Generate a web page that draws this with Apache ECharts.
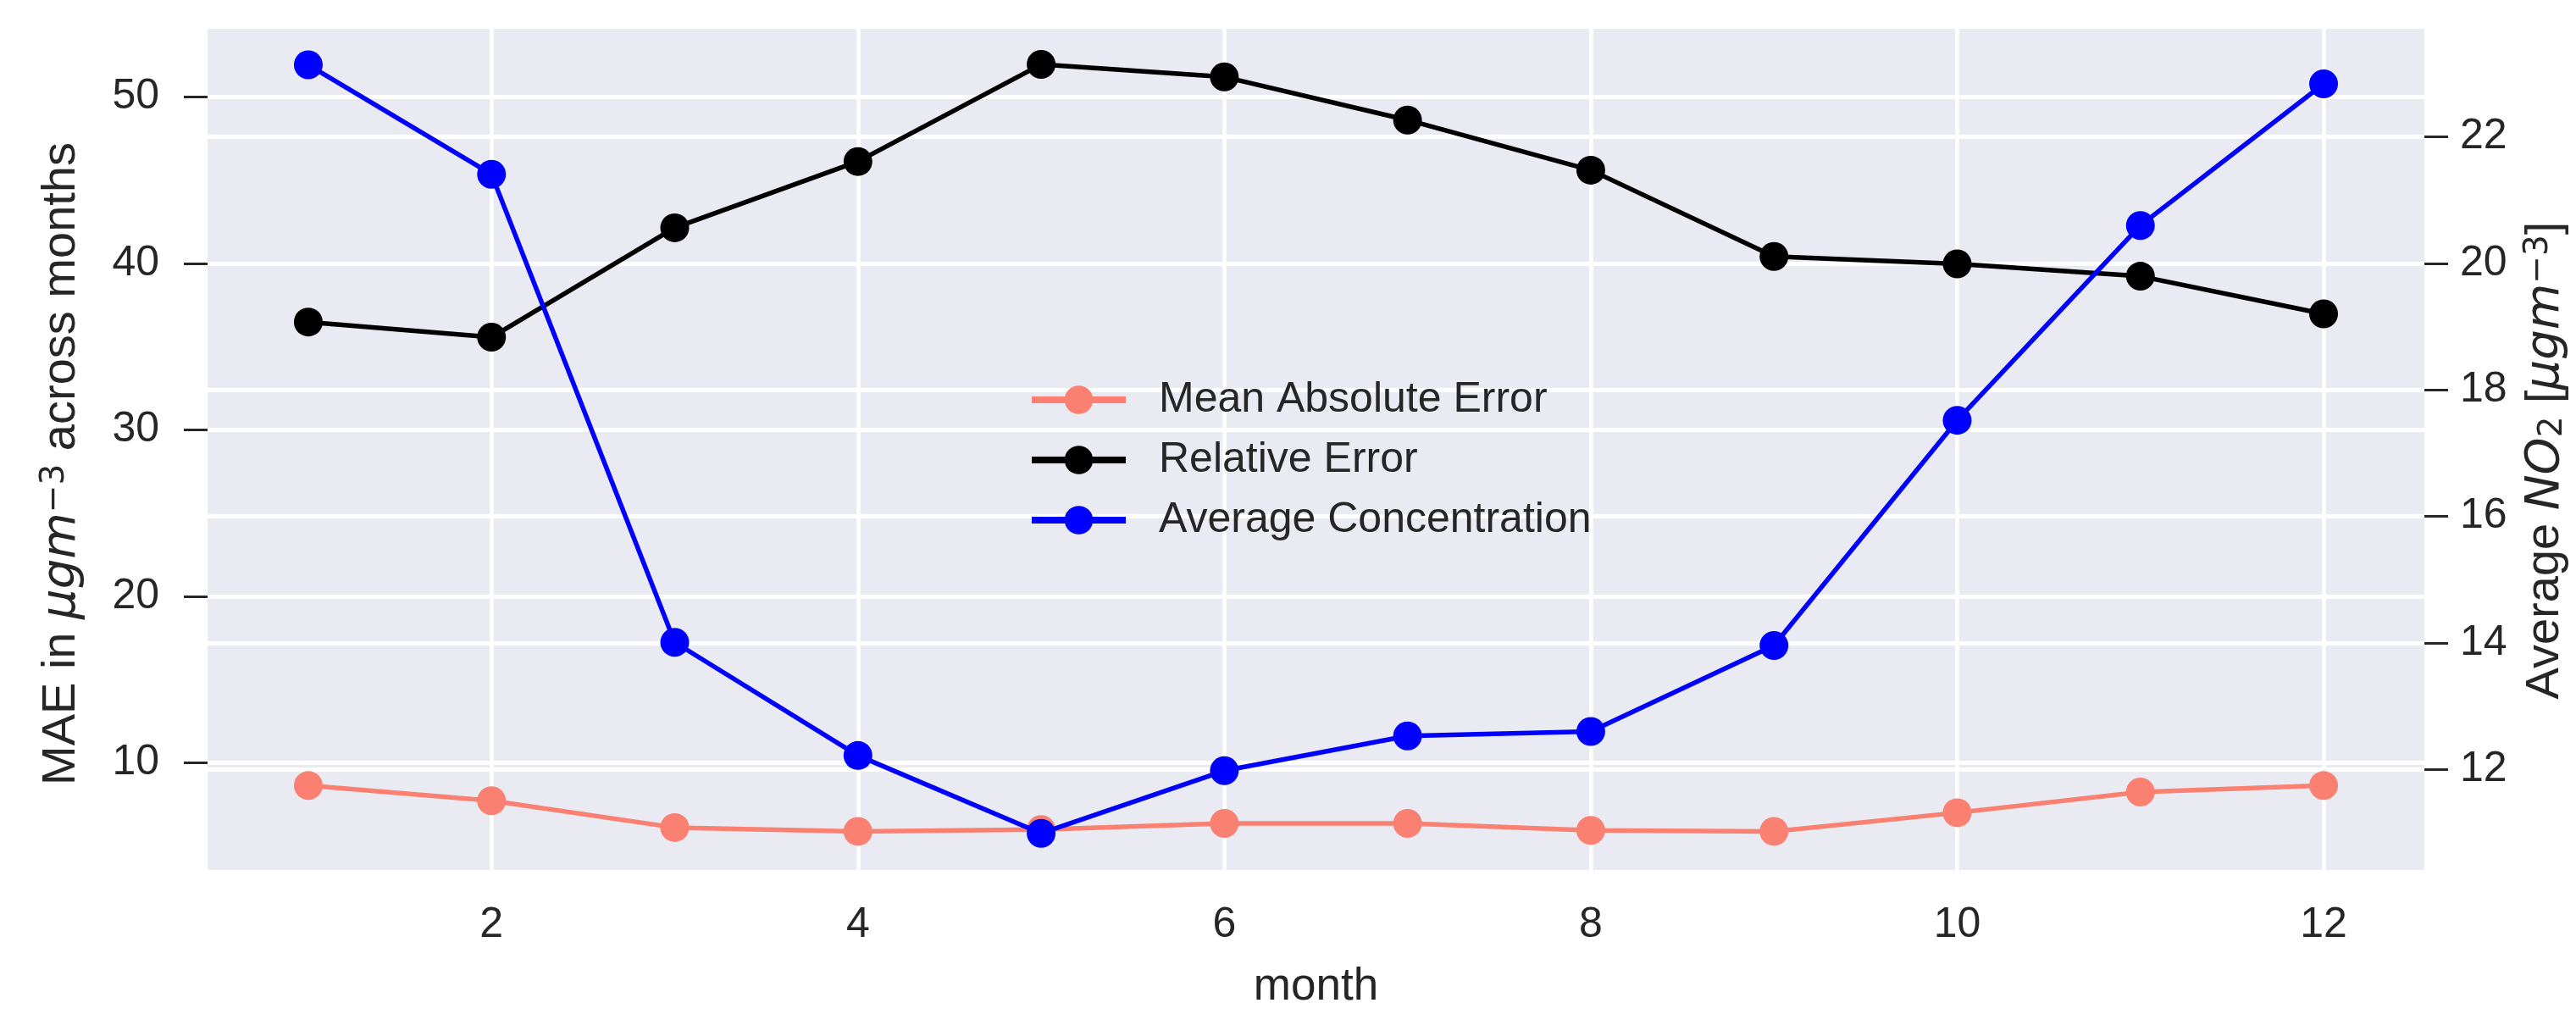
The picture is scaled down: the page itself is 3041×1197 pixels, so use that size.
<!DOCTYPE html>
<html>
<head>
<meta charset="utf-8">
<title>MAE across months</title>
<script src="https://cdn.jsdelivr.net/npm/echarts@6/dist/echarts.min.js"></script>
<style>
  html, body { margin: 0; padding: 0; background: #fff; }
  #chart { width: 3041px; height: 1197px; }
</style>
</head>
<body>
<div id="chart"></div>
<script>
// data
const months = [1, 2, 3, 4, 5, 6, 7, 8, 9, 10, 11, 12]
const meanAbsError = [8.64, 7.73, 6.12, 5.89, 6.0, 6.37, 6.37, 5.95, 5.89, 7.01, 8.25, 8.64]
const relativeError = [36.48, 35.57, 42.14, 46.12, 51.95, 51.2, 48.61, 45.6, 40.42, 39.97, 39.23, 36.97]
const avgConcentration = [23.14, 21.41, 14.01, 12.22, 10.99, 11.98, 12.53, 12.6, 13.96, 17.52, 20.6, 22.84]

const monthTicks = [2, 4, 6, 8, 10, 12]
const maeTicks = [10, 20, 30, 40, 50]
const concTicks = [12, 14, 16, 18, 20, 22]

const font = "'Liberation Sans', Arial, sans-serif"
const mathFont = "'DejaVu Sans', sans-serif"
const textColor = "#262626"
const bg = "#EAEAF2"

const pairs = (vals) => months.map((m, i) => [m, vals[i]])

const chart = echarts.init(document.getElementById("chart"))

const option = {
  animation: false,
  backgroundColor: "#fff",
  textStyle: { fontFamily: font },
  grid: {
    left: 245,
    right: 179,
    top: 34,
    bottom: 150,
    show: true,
    backgroundColor: bg,
    borderWidth: 0
  },
  legend: {
    orient: "vertical",
    left: 1209,
    top: 442,
    itemWidth: 111,
    itemHeight: 42,
    itemGap: 21,
    lineStyle: { width: 8 },
    textStyle: {
      fontSize: 50,
      color: textColor,
      fontFamily: font,
      lineHeight: 42,
      padding: [0, 0, 0, 34]
    },
    data: ["Mean Absolute Error", "Relative Error", "Average Concentration"]
  },
  xAxis: {
    type: "value",
    min: 0.45,
    max: 12.55,
    name: "month",
    nameLocation: "middle",
    nameGap: 112,
    nameTextStyle: { fontSize: 53, color: textColor, fontFamily: font },
    axisLine: { show: false },
    axisTick: { show: false, customValues: monthTicks },
    axisLabel: {
      customValues: monthTicks,
      fontSize: 50,
      color: textColor,
      margin: 40
    },
    splitLine: { show: true, lineStyle: { color: "#fff", width: 4.5 } }
  },
  yAxis: [
    {
      type: "value",
      position: "left",
      min: 3.57,
      max: 54.09,
      name: "MAE in {it|μgm}{sup|−3} across months",
      nameLocation: "middle",
      nameRotate: 90,
      nameGap: 144,
      nameTextStyle: {
        fontSize: 56,
        color: textColor,
        fontFamily: font,
        padding: [0, 34, 0, 0],
        rich: {
          it: { fontSize: 56, fontStyle: "italic", color: textColor, fontFamily: mathFont },
          sup: { fontSize: 39, verticalAlign: "top", color: textColor, fontFamily: mathFont }
        }
      },
      axisLine: { show: false },
      axisTick: {
        show: true,
        length: 28,
        customValues: maeTicks,
        lineStyle: { color: textColor, width: 3 }
      },
      axisLabel: {
        customValues: maeTicks,
        fontSize: 50,
        color: textColor,
        margin: 57
      },
      splitLine: { show: true, lineStyle: { color: "#fff", width: 5 } }
    },
    {
      type: "value",
      position: "right",
      min: 10.41,
      max: 23.71,
      name: "Average {it|NO}{sub|2} [{it|μgm}{sup|−3}]",
      nameLocation: "middle",
      nameRotate: 90,
      nameGap: 115,
      nameTextStyle: {
        fontSize: 56,
        color: textColor,
        fontFamily: font,
        padding: [0, 26, 0, 0],
        rich: {
          it: { fontSize: 56, fontStyle: "italic", color: textColor, fontFamily: mathFont },
          sub: { fontSize: 39, verticalAlign: "bottom", color: textColor, fontFamily: mathFont },
          sup: { fontSize: 39, verticalAlign: "top", color: textColor, fontFamily: mathFont }
        }
      },
      axisLine: { show: false },
      axisTick: {
        show: true,
        length: 28,
        customValues: concTicks,
        lineStyle: { color: textColor, width: 3 }
      },
      axisLabel: {
        customValues: concTicks,
        fontSize: 50,
        color: textColor,
        margin: 42
      },
      splitLine: { show: true, lineStyle: { color: "#fff", width: 5 } }
    }
  ],
  series: [
    {
      name: "Mean Absolute Error",
      type: "line",
      yAxisIndex: 0,
      data: pairs(meanAbsError),
      symbol: "circle",
      symbolSize: 34,
      color: "#FA8072",
      lineStyle: { width: 5.5, color: "#FA8072" },
      itemStyle: { color: "#FA8072" },
      z: 2
    },
    {
      name: "Relative Error",
      type: "line",
      yAxisIndex: 0,
      data: pairs(relativeError),
      symbol: "circle",
      symbolSize: 34,
      color: "#000",
      lineStyle: { width: 5.5, color: "#000" },
      itemStyle: { color: "#000" },
      z: 3
    },
    {
      name: "Average Concentration",
      type: "line",
      yAxisIndex: 1,
      data: pairs(avgConcentration),
      symbol: "circle",
      symbolSize: 34,
      color: "#0000FF",
      lineStyle: { width: 5.5, color: "#0000FF" },
      itemStyle: { color: "#0000FF" },
      z: 4
    }
  ]
}

chart.setOption(option)
</script>
</body>
</html>
